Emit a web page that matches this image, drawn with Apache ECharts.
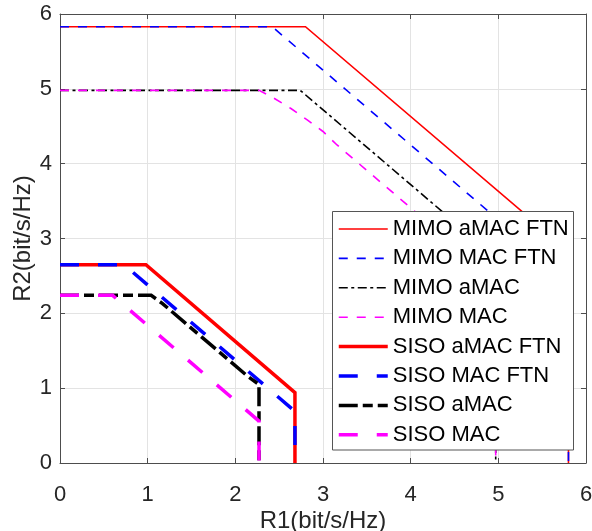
<!DOCTYPE html>
<html>
<head>
<meta charset="utf-8">
<script src="https://cdn.jsdelivr.net/npm/echarts@6/dist/echarts.min.js"></script>
<style>
html,body{margin:0;padding:0;background:#fff;}
#chart{width:592px;height:531px;}
</style>
</head>
<body>
<div id="chart"></div>
<script>
// ---- data (R1, R2) in bit/s/Hz ----
var seriesNames = ['MIMO aMAC FTN','MIMO MAC FTN','MIMO aMAC','MIMO MAC','SISO aMAC FTN','SISO MAC FTN','SISO aMAC','SISO MAC'];
var mimoAmacFtn = [[0,5.83],[2.8,5.83],[5.8,2.83],[5.8,0]];
var mimoMacFtn  = [[0,5.83],[2.42,5.83],[5.8,2.45],[5.8,0]];
var mimoAmac    = [[0,4.98],[2.74,4.98],[4.97,2.75],[4.97,0]];
var mimoMac     = [[0,4.98],[2.27,4.98],[2.44,4.875],[2.63,4.74],[2.82,4.585],[3.0,4.43],[3.16,4.25],
                   [4.25,3.16],[4.43,3.0],[4.585,2.82],[4.74,2.63],[4.875,2.44],[4.97,2.27],[4.97,0]];
var sisoAmacFtn = [[0,2.65],[0.98,2.65],[2.68,0.94],[2.68,0]];
var sisoMacFtn  = [[0,2.65],[0.73,2.65],[2.68,0.69],[2.68,0]];
var sisoAmac    = [[0,2.24],[1.04,2.24],[1.17,2.13],[2.15,1.15],[2.27,1.05],[2.27,0]];
var sisoMac     = [[0,2.24],[0.6,2.24],[2.27,0.56],[2.27,0]];
var xTicks = [0,1,2,3,4,5,6];
var yTicks = [0,1,2,3,4,5,6];

var FONT = "'Liberation Sans', Arial, Helvetica, sans-serif";
var chart = echarts.init(document.getElementById('chart'), null, {renderer:'canvas'});

function mk(name, data, color, width, type){
  return {
    name: name, type: 'line', data: data, symbol: 'none', showSymbol: false,
    lineStyle: {color: color, width: width, type: type, cap: 'butt', join: 'miter'},
    itemStyle: {color: color},
    clip: false, animation: false, z: 2
  };
}

var axisCommon = {
  type: 'value', min: 0, max: 6, interval: 1,
  axisLine: {show: true, onZero: false, lineStyle: {color: '#4d4d4d', width: 1}},
  axisTick: {show: true, inside: true, length: 5, lineStyle: {color: '#4d4d4d'}},
};

var option = {
  backgroundColor: '#fff',
  animation: false,
  grid: {left: 60, right: 6, top: 14, bottom: 68, containLabel: false, outerBoundsMode: 'none'},
  xAxis: [
    Object.assign({}, axisCommon, {
      position: 'bottom',
      name: 'R1(bit/s/Hz)', nameLocation: 'middle', nameGap: 46, nameMoveOverlap: false,
      nameTextStyle: {fontFamily: FONT, fontSize: 24, color: '#262626'},
      axisLabel: {fontFamily: FONT, fontSize: 22, color: '#262626', margin: 21,
                  formatter: function(v){ return xTicks.indexOf(v) >= 0 ? String(v) : ''; }},
      splitLine: {show: true, lineStyle: {color: '#e3e3e3', width: 1}}
    }),
    Object.assign({}, axisCommon, {
      position: 'top', axisLabel: {show: false}, splitLine: {show: false}
    })
  ],
  yAxis: [
    Object.assign({}, axisCommon, {
      position: 'left',
      name: 'R2(bit/s/Hz)', nameLocation: 'middle', nameGap: 25, nameMoveOverlap: false,
      nameTextStyle: {fontFamily: FONT, fontSize: 24, color: '#262626'},
      axisLabel: {fontFamily: FONT, fontSize: 22, color: '#262626', margin: 8,
                  formatter: function(v){ return yTicks.indexOf(v) >= 0 ? String(v) : ''; }},
      splitLine: {show: true, lineStyle: {color: '#e3e3e3', width: 1}}
    }),
    Object.assign({}, axisCommon, {
      position: 'right', axisLabel: {show: false}, splitLine: {show: false}
    })
  ],
  legend: {
    orient: 'vertical', left: 337, top: 218, padding: 0,
    itemWidth: 49, itemHeight: 22, itemGap: 7.4,
    data: seriesNames,
    itemStyle: {opacity: 0, borderWidth: 0},
    lineStyle: {width: 'inherit', type: 'inherit'},
    textStyle: {fontFamily: FONT, fontSize: 22, color: '#000', lineHeight: 22},
    selectedMode: false, z: 10
  },
  graphic: [{
    type: 'rect', z: 9, silent: true,
    shape: {x: 332.5, y: 211.5, width: 241, height: 238.5},
    style: {fill: '#fff', stroke: '#555', lineWidth: 1}
  }],
  series: [
    mk(seriesNames[0], mimoAmacFtn, '#ff0000', 1.6, 'solid'),
    mk(seriesNames[1], mimoMacFtn,  '#0000ff', 1.6, [9, 9]),
    mk(seriesNames[2], mimoAmac,    '#000000', 1.6, [9, 3.5, 3, 3.5]),
    mk(seriesNames[3], mimoMac,     '#ff00ff', 1.6, [9, 9]),
    mk(seriesNames[4], sisoAmacFtn, '#ff0000', 3.5, 'solid'),
    mk(seriesNames[5], sisoMacFtn,  '#0000ff', 3.5, [19, 19]),
    mk(seriesNames[6], sisoAmac,    '#000000', 3.5, [19, 5, 10, 5]),
    mk(seriesNames[7], sisoMac,     '#ff00ff', 3.5, [19, 19])
  ]
};
chart.setOption(option);
</script>
</body>
</html>
